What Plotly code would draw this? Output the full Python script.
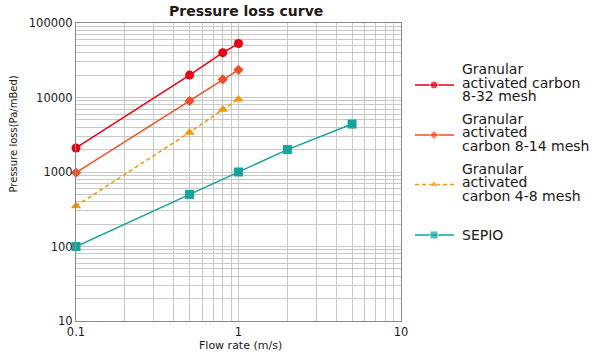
import plotly.graph_objects as go

# ---------------- data ----------------
flow_gac = [0.1, 0.5, 0.8, 1.0]
gac_8_32 = [2100, 20000, 40000, 53000]
gac_8_14 = [980, 9000, 17500, 23500]
gac_4_8 = [350, 3400, 6900, 9500]
flow_sepio = [0.1, 0.5, 1, 2, 5]
sepio = [100, 500, 1000, 2000, 4400]

series_names = [
    ["Granular", "activated carbon", "8-32 mesh"],
    ["Granular", "activated", "carbon 8-14 mesh"],
    ["Granular", "activated", "carbon 4-8 mesh"],
    ["SEPIO"],
]

x_tick_vals = [0.1, 1, 10]
x_tick_text = ["0.1", "1", "10"]
y_tick_vals = [10, 100, 1000, 10000, 100000]
y_tick_text = ["10", "100", "1000", "10000", "100000"]

# ---------------- styles ----------------
W, H = 600, 357
FONT = "DejaVu Sans"
TXT = "#231815"
colors = ["#e60012", "#ee4f28", "#f39800", "#14a39d"]
symbols = ["circle", "diamond", "triangle-up", "square"]
msizes = [9, 8, 9, 9]
dashes = ["solid", "solid", "4px,3px", "solid"]

# plot area in pixels
L, R, T, B = 76, 401, 23, 321

fig = go.Figure()

xs = [flow_gac, flow_gac, flow_gac, flow_sepio]
ys = [gac_8_32, gac_8_14, gac_4_8, sepio]
for i in range(4):
    fig.add_trace(go.Scatter(
        x=xs[i], y=ys[i], mode="lines+markers",
        name=" ".join(series_names[i]),
        line=dict(color=colors[i], width=1.5, dash=dashes[i]),
        marker=dict(color=colors[i], symbol=symbols[i], size=msizes[i]),
        showlegend=False, cliponaxis=False,
        xaxis="x", yaxis="y",
    ))


def grid_vals(lo_exp, hi_exp):
    v = []
    for e in range(lo_exp, hi_exp):
        for m in range(1, 10):
            v.append(m * 10 ** e)
    v.append(10 ** hi_exp)
    return v


xg = grid_vals(-1, 1)
yg = grid_vals(1, 5)


def txt_for(vals, major_vals, major_text):
    out = []
    for v in vals:
        match = [t for mv, t in zip(major_vals, major_text) if abs(v - mv) < 1e-9 * max(1, mv)]
        out.append(match[0] if match else "")
    return out


# ---------------- custom legend (pixel coordinates on overlay axes) ----------------
leg_marker_y = [85, 135, 184.5, 235]
leg_text_y = [[69, 82.5, 95.5], [118.5, 132, 145.5], [168.5, 182, 195.5], [235]]
leg_x0, leg_xm, leg_x1, leg_tx = 415, 434, 454, 460

for i in range(4):
    fig.add_trace(go.Scatter(
        x=[leg_x0, leg_xm, leg_x1], y=[leg_marker_y[i]] * 3,
        mode="lines+markers",
        line=dict(color=colors[i], width=1.5, dash=dashes[i]),
        marker=dict(color=colors[i], symbol=symbols[i], size=[0, msizes[i] - 1, 0]),
        showlegend=False, hoverinfo="skip", cliponaxis=False,
        xaxis="x2", yaxis="y2",
    ))

annotations = []
for i in range(4):
    for line, yy in zip(series_names[i], leg_text_y[i]):
        annotations.append(dict(
            x=leg_tx, y=yy, xref="x2", yref="y2", text=line, showarrow=False,
            xanchor="left", yanchor="middle",
            font=dict(family=FONT, size=14, color=TXT),
        ))

annotations.append(dict(x=246, y=11, xref="x2", yref="y2", text="<b>Pressure loss curve</b>",
                        showarrow=False, xanchor="center", yanchor="middle",
                        font=dict(family=FONT, size=14, color=TXT)))
annotations.append(dict(x=240, y=345, xref="x2", yref="y2", text="Flow rate (m/s)",
                        showarrow=False, xanchor="center", yanchor="middle",
                        font=dict(family=FONT, size=11, color=TXT)))
annotations.append(dict(x=12.5, y=134, xref="x2", yref="y2", text="Pressure loss(Pa/mBed)",
                        showarrow=False, xanchor="center", yanchor="middle", textangle=-90,
                        font=dict(family=FONT, size=10, color=TXT)))

axis_common = dict(
    type="log", showgrid=True, gridcolor="#c8c8c8", gridwidth=1,
    showline=True, linecolor="#8a8a8a", linewidth=1, mirror=True,
    ticks="", zeroline=False, automargin=False,
    tickfont=dict(family=FONT, size=11.5, color=TXT),
)

fig.update_layout(
    width=W, height=H,
    margin=dict(l=0, r=0, t=0, b=0, pad=0),
    paper_bgcolor="white", plot_bgcolor="rgba(0,0,0,0)",
    showlegend=False,
    xaxis=dict(axis_common, domain=[L / W, R / W], range=[-1, 1], anchor="y",
               tickmode="array", tickvals=xg, ticktext=txt_for(xg, x_tick_vals, x_tick_text)),
    yaxis=dict(axis_common, domain=[1 - B / H, 1 - T / H], range=[1, 5], anchor="x",
               tickmode="array", tickvals=yg, ticktext=txt_for(yg, y_tick_vals, y_tick_text)),
    xaxis2=dict(domain=[0, 1], range=[0, W], anchor="y2", visible=False, fixedrange=True),
    yaxis2=dict(domain=[0, 1], range=[H, 0], anchor="x2", visible=False, fixedrange=True),
    annotations=annotations,
)

fig.write_html(
    "out.html",
    config={"displayModeBar": False},
    post_script="document.body.style.margin='0';document.body.style.overflow='hidden';",
)
